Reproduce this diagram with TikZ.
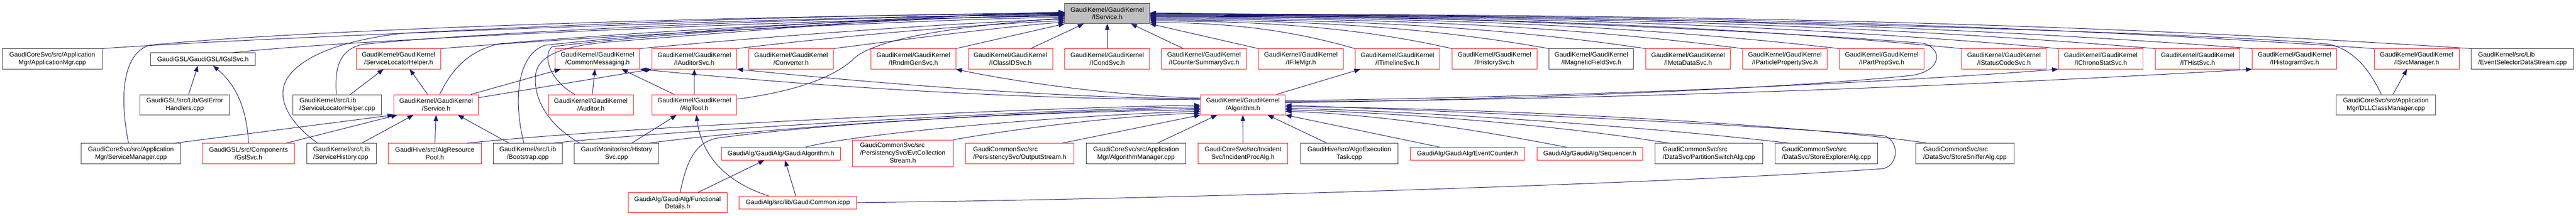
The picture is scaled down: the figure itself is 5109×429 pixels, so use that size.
\documentclass[tikz,border=0pt]{standalone}
\usepackage{fontspec}
\setmainfont{Liberation Sans}
\usetikzlibrary{arrows.meta}
\definecolor{edgec}{RGB}{25,25,112}
\definecolor{boxred}{RGB}{255,30,30}
\definecolor{boxblk}{RGB}{60,60,60}
\definecolor{mainfill}{RGB}{191,191,191}
\newcommand{\nodefnt}{\fontsize{12.8pt}{15pt}\selectfont}
\begin{document}
\begin{tikzpicture}[x=1pt,y=1pt,
  nb/.style={draw=boxblk, line width=1pt, rectangle, inner sep=0pt, font=\nodefnt, align=center, minimum height=40pt, text=black},
  rb/.style={nb, draw=boxred},
  kn/.style={rb, minimum width=168pt},
  lnk/.style={draw=edgec, line width=1pt, -{Triangle[length=12pt,width=9pt]}}]
\fill[white] (0,0) rectangle (5109,-429);
\useasboundingbox (0,0) rectangle (5109,-429);

% main node
\node[nb, minimum width=168pt, fill=mainfill] (isvc) at (2196,-26.7) {GaudiKernel/GaudiKernel\\/IService.h};

% row 2
\node[nb, minimum width=198pt] (appmgr) at (103.5,-117) {GaudiCoreSvc/src/Application\\Mgr/ApplicationMgr.cpp};
\node[nb, minimum width=208pt, minimum height=25pt] (igsl) at (402.5,-117.5) {GaudiGSL/GaudiGSL/IGslSvc.h};
\node[kn] (slhh) at (790.5,-117) {GaudiKernel/GaudiKernel\\/ServiceLocatorHelper.h};
\node[kn] (cmsg) at (1185,-117) {GaudiKernel/GaudiKernel\\/CommonMessaging.h};
\node[kn] (iaud) at (1377,-117) {GaudiKernel/GaudiKernel\\/IAuditorSvc.h};
\node[kn] (conv) at (1569,-117) {GaudiKernel/GaudiKernel\\/Converter.h};
\node[kn] (irndm) at (1811.5,-117) {GaudiKernel/GaudiKernel\\/IRndmGenSvc.h};
\node[kn] (iclid) at (2004,-117) {GaudiKernel/GaudiKernel\\/IClassIDSvc.h};
\node[kn] (icond) at (2196,-117) {GaudiKernel/GaudiKernel\\/ICondSvc.h};
\node[kn] (icnt) at (2388,-117) {GaudiKernel/GaudiKernel\\/ICounterSummarySvc.h};
\node[kn] (ifile) at (2580,-117) {GaudiKernel/GaudiKernel\\/IFileMgr.h};
\node[kn] (itime) at (2771.5,-117) {GaudiKernel/GaudiKernel\\/ITimelineSvc.h};
\node[kn] (ihist) at (2964,-117) {GaudiKernel/GaudiKernel\\/IHistorySvc.h};
\node[kn, draw=boxblk] (imag) at (3156,-117) {GaudiKernel/GaudiKernel\\/IMagneticFieldSvc.h};
\node[kn] (imeta) at (3348,-117) {GaudiKernel/GaudiKernel\\/IMetaDataSvc.h};
\node[kn] (ipart) at (3540,-117) {GaudiKernel/GaudiKernel\\/IParticlePropertySvc.h};
\node[kn] (ipprop) at (3732,-117) {GaudiKernel/GaudiKernel\\/IPartPropSvc.h};
\node[kn] (istat) at (3974.5,-117) {GaudiKernel/GaudiKernel\\/IStatusCodeSvc.h};
\node[kn] (ichrono) at (4166.5,-117) {GaudiKernel/GaudiKernel\\/IChronoStatSvc.h};
\node[kn] (ithist) at (4358.6,-117) {GaudiKernel/GaudiKernel\\/ITHistSvc.h};
\node[kn] (ihisto) at (4550.8,-117) {GaudiKernel/GaudiKernel\\/IHistogramSvc.h};
\node[kn] (isvcmgr) at (4793,-117) {GaudiKernel/GaudiKernel\\/ISvcManager.h};
\node[nb, minimum width=203pt, align=left] (esds) at (5002.8,-117) {GaudiKernel/src/Lib\\/EventSelectorDataStream.cpp};

% row 3
\node[nb, minimum width=177pt] (gslerr) at (366.4,-208) {GaudiGSL/src/Lib/GslError\\Handlers.cpp};
\node[nb, minimum width=176pt, align=left] (slhcpp) at (669,-208) {GaudiKernel/src/Lib\\/ServiceLocatorHelper.cpp};
\node[kn] (service) at (865,-208) {GaudiKernel/GaudiKernel\\/Service.h};
\node[kn] (auditor) at (1171.8,-208) {GaudiKernel/GaudiKernel\\/Auditor.h};
\node[kn] (algtool) at (1377,-208) {GaudiKernel/GaudiKernel\\/AlgTool.h};
\node[kn] (algo) at (2465,-208) {GaudiKernel/GaudiKernel\\/Algorithm.h};
\node[nb, minimum width=197pt] (dllcm) at (4731.9,-208) {GaudiCoreSvc/src/Application\\Mgr/DLLClassManager.cpp};

% row 4
\node[nb, minimum width=197.5pt] (svcmgr) at (259.7,-305) {GaudiCoreSvc/src/Application\\Mgr/ServiceManager.cpp};
\node[rb, minimum width=183pt] (gslsvc) at (492.9,-305) {GaudiGSL/src/Components\\/GslSvc.h};
\node[nb, minimum width=137.6pt, align=left] (svchist) at (677.3,-305) {GaudiKernel/src/Lib\\/ServiceHistory.cpp};
\node[rb, minimum width=184.6pt] (algres) at (862.4,-305) {GaudiHive/src/AlgResource\\Pool.h};
\node[nb, minimum width=136.5pt] (boot) at (1046.7,-305) {GaudiKernel/src/Lib\\/Bootstrap.cpp};
\node[nb, minimum width=167pt] (histsvc) at (1222.7,-305) {GaudiMonitor/src/History\\Svc.cpp};
\node[rb, minimum width=235.6pt, minimum height=25pt] (gaudialg) at (1548.9,-305.5) {GaudiAlg/GaudiAlg/GaudiAlgorithm.h};
\node[rb, minimum width=200pt, minimum height=54pt, align=none] (evtcol) at (1790.5,-305) {\begin{tabular}{@{}l@{}}GaudiCommonSvc/src\\/PersistencySvc/EvtCollection\\\multicolumn{1}{@{}c@{}}{Stream.h}\end{tabular}};
\node[rb, minimum width=215pt, align=left] (outstr) at (2022.4,-305) {GaudiCommonSvc/src\\/PersistencySvc/OutputStream.h};
\node[nb, minimum width=197.5pt] (algmgr) at (2253,-305) {GaudiCoreSvc/src/Application\\Mgr/AlgorithmManager.cpp};
\node[rb, minimum width=178.6pt] (incproc) at (2465.1,-305) {GaudiCoreSvc/src/Incident\\Svc/IncidentProcAlg.h};
\node[nb, minimum width=193.5pt] (algoexec) at (2676,-305) {GaudiHive/src/AlgoExecution\\Task.cpp};
\node[rb, minimum width=226.7pt, minimum height=25pt] (evtcnt) at (2910.5,-305.5) {GaudiAlg/GaudiAlg/EventCounter.h};
\node[rb, minimum width=209.7pt, minimum height=25pt] (seq) at (3153,-305.5) {GaudiAlg/GaudiAlg/Sequencer.h};
\node[nb, minimum width=213.7pt, align=left] (partsw) at (3389.3,-305) {GaudiCommonSvc/src\\/DataSvc/PartitionSwitchAlg.cpp};
\node[nb, minimum width=203.8pt, align=left] (storeexp) at (3622.4,-305) {GaudiCommonSvc/src\\/DataSvc/StoreExplorerAlg.cpp};
\node[nb, minimum width=195.2pt, align=left] (storesniff) at (3897,-305) {GaudiCommonSvc/src\\/DataSvc/StoreSnifferAlg.cpp};

% row 5
\node[rb, minimum width=196pt] (funcdet) at (1343.8,-402.5) {GaudiAlg/GaudiAlg/Functional\\Details.h};
\node[rb, minimum width=233.5pt, minimum height=25pt] (gcommon) at (1582.3,-402.5) {GaudiAlg/src/lib/GaudiCommon.icpp};

% ---- edges into IService (left side)
\draw[lnk] ([xshift=-72.7pt]histsvc.north) .. controls (1090,-250) and (1058,-200) .. (1062,-150) .. controls (1066,-108) and (1120,-92) .. (1200,-84) .. controls (1600,-52) and (1900,-28) .. ([yshift=2.7pt]isvc.west);
\draw[lnk] ([xshift=-7.7pt]boot.north) .. controls (1018,-200) and (1025,-110) .. (1080,-90) .. controls (1400,-55) and (1900,-28) .. ([yshift=1.7pt]isvc.west);
\draw[lnk] ([xshift=-47.3pt]svchist.north) .. controls (575,-245) and (545,-195) .. (570,-155) .. controls (600,-110) and (680,-80) .. (800,-66) .. controls (1300,-40) and (1800,-27) .. ([yshift=0.7pt]isvc.west);
\draw[lnk] ([xshift=-4.7pt]svcmgr.north) .. controls (238,-200) and (240,-110) .. (295,-90) .. controls (600,-58) and (1500,-30) .. ([yshift=-0.3pt]isvc.west);
\draw[lnk] (appmgr.north east) .. controls (500,-75) and (1500,-35) .. ([yshift=-1.3pt]isvc.west);
\draw[lnk] ([xshift=-2pt]slhcpp.north) .. controls (663,-130) and (675,-98) .. (720,-88) .. controls (1000,-60) and (1700,-32) .. ([yshift=-2.3pt]isvc.west);
\draw[lnk] ([xshift=-31.8pt]auditor.north) .. controls (1090,-160) and (1075,-110) .. (1095,-93) .. controls (1300,-65) and (1850,-33) .. ([yshift=-3.3pt]isvc.west);
\draw[lnk] ([xshift=7pt]service.north) .. controls (900,-130) and (935,-100) .. (990,-87) .. controls (1300,-60) and (1800,-34) .. ([yshift=-4.3pt]isvc.west);
\draw[lnk] ([xshift=59.5pt]igsl.north) .. controls (700,-78) and (1600,-38) .. ([yshift=-5.3pt]isvc.west);
\draw[lnk] (slhh.north east) .. controls (1200,-70) and (1800,-40) .. ([yshift=-7.3pt]isvc.west);
\draw[lnk] ([yshift=11pt]algtool.east) .. controls (1590,-180) and (1655,-150) .. (1690,-120) .. controls (1720,-85) and (1850,-55) .. ([yshift=-9.3pt]isvc.west);
\draw[lnk] (cmsg.north east) .. controls (1550,-70) and (1900,-45) .. ([yshift=-11.3pt]isvc.west);
\draw[lnk] (iaud.north east) .. controls (1700,-68) and (1950,-48) .. ([yshift=-14.3pt]isvc.west);
\draw[lnk] (conv.north east) .. controls (1820,-75) and (2000,-52) .. ([yshift=-17.3pt]isvc.west);

% ---- edges into IService (bottom)
\draw[lnk] (irndm.north east) -- (isvc.south west);
\draw[lnk] ([xshift=40pt]iclid.north) -- ([xshift=38pt]isvc.south west);
\draw[lnk] (icond.north) -- (isvc.south);
\draw[lnk] ([xshift=-41pt]icnt.north) -- ([xshift=47pt]isvc.south);
\draw[lnk] (ifile.north west) -- (isvc.south east);

% ---- edges into IService (right side)
\draw[lnk] (itime.north west) .. controls (2565,-61) and (2443,-45) .. ([yshift=-18pt]isvc.east);
\draw[lnk] (ihist.north west) .. controls (2700,-56) and (2520,-42) .. ([yshift=-15pt]isvc.east);
\draw[lnk] (imag.north west) .. controls (2834,-54) and (2597,-40) .. ([yshift=-13pt]isvc.east);
\draw[lnk] (imeta.north west) .. controls (2969,-53) and (2674,-38) .. ([yshift=-11pt]isvc.east);
\draw[lnk] (ipart.north west) .. controls (3103,-51) and (2750,-36) .. ([yshift=-9pt]isvc.east);
\draw[lnk] (ipprop.north west) .. controls (3238,-50) and (2827,-34) .. ([yshift=-7pt]isvc.east);
\draw[lnk] (istat.north west) .. controls (3407,-49) and (2924,-33) .. ([yshift=-6pt]isvc.east);
\draw[lnk] (ichrono.north west) .. controls (3542,-48) and (3001,-32) .. ([yshift=-5pt]isvc.east);
\draw[lnk] (ithist.north west) .. controls (3676,-47) and (3078,-31) .. ([yshift=-4pt]isvc.east);
\draw[lnk] (ihisto.north west) .. controls (3811,-47) and (3155,-30) .. ([yshift=-3pt]isvc.east);
\draw[lnk] (isvcmgr.north west) .. controls (3980,-46) and (3252,-29) .. ([yshift=-2pt]isvc.east);
\draw[lnk] (esds.north west) .. controls (4115,-45) and (3328,-28) .. ([yshift=-1pt]isvc.east);
\draw[lnk] ([xshift=-8.9pt]dllcm.north) .. controls (4700,-140) and (4670,-100) .. (4620,-88) .. controls (4400,-65) and (3200,-30) .. (isvc.east);
\draw[lnk] ([yshift=4pt]algo.east) .. controls (2900,-200) and (3500,-180) .. (3790,-150) .. controls (3850,-142) and (3855,-98) .. (3815,-86) .. controls (3500,-60) and (2800,-30) .. ([yshift=1pt]isvc.east);

% ---- edges out of Algorithm.h
\draw[lnk] ([xshift=67pt]algo.north) -- ([xshift=-73.5pt]itime.south);
\draw[lnk] ([yshift=13pt]algo.west) .. controls (2200,-190) and (2000,-160) .. (irndm.south east);
\draw[lnk] ([yshift=10pt]algo.west) .. controls (2100,-198) and (1700,-180) .. (cmsg.south east);
\draw[lnk] ([yshift=12pt]algo.west) .. controls (2150,-196) and (1800,-172) .. (iaud.south east);
\draw[lnk] ([yshift=8pt]algo.east) .. controls (3200,-192) and (3800,-160) .. (ichrono.south west);
\draw[lnk] ([yshift=6pt]algo.east) .. controls (3300,-198) and (4100,-160) .. (ihisto.south west);

% ---- edges into Algorithm.h
\draw[lnk] ([xshift=63.6pt]algres.north) .. controls (1200,-255) and (2000,-215) .. ([yshift=-1pt]algo.west);
\draw[lnk] ([xshift=49.3pt]boot.north) .. controls (1300,-262) and (2000,-220) .. ([yshift=-4pt]algo.west);
\draw[lnk] ([xshift=63.8pt]histsvc.north) .. controls (1500,-255) and (2000,-222) .. ([yshift=-7pt]algo.west);
\draw[lnk] ([xshift=5.2pt]funcdet.north) .. controls (1362,-320) and (1378,-282) .. (1425,-274) .. controls (1700,-238) and (2100,-222) .. ([yshift=-10pt]algo.west);
\draw[lnk] ([xshift=48.1pt]gaudialg.north) .. controls (1700,-265) and (2100,-230) .. ([yshift=-13pt]algo.west);
\draw[lnk] (evtcol.north east) .. controls (2050,-250) and (2250,-228) .. ([yshift=-17pt]algo.west);
\draw[lnk] ([xshift=83.6pt]outstr.north) -- (algo.south west);
\draw[lnk] ([xshift=42pt]algmgr.north) -- ([xshift=-51pt]algo.south);
\draw[lnk] (incproc.north) -- (algo.south);
\draw[lnk] ([xshift=-44pt]algoexec.north) -- ([xshift=49pt]algo.south);
\draw[lnk] ([xshift=-54.5pt]evtcnt.north) -- (algo.south east);
\draw[lnk] ([xshift=-46pt]seq.north) .. controls (2950,-262) and (2750,-228) .. ([yshift=-13pt]algo.east);
\draw[lnk] ([xshift=-79.3pt]partsw.north) .. controls (3100,-250) and (2800,-225) .. ([yshift=-10pt]algo.east);
\draw[lnk] ([xshift=-73.4pt]storeexp.north) .. controls (3300,-255) and (2850,-222) .. ([yshift=-7pt]algo.east);
\draw[lnk] ([xshift=-75pt]storesniff.north) .. controls (3600,-250) and (3000,-215) .. ([yshift=-4pt]algo.east);
\draw[lnk] (gcommon.east) .. controls (2400,-395) and (3400,-360) .. (3735,-335) .. controls (3765,-328) and (3768,-282) .. (3738,-270) .. controls (3400,-242) and (2800,-218) .. ([yshift=-1pt]algo.east);

% ---- other edges
\draw[lnk] ([xshift=7.6pt]gslerr.north) -- ([xshift=-10pt]igsl.south);
\draw[lnk] (gslsvc.north) .. controls (490,-220) and (470,-170) .. ([xshift=20pt]igsl.south);
\draw[lnk] ([xshift=26pt]slhcpp.north) -- ([xshift=-30pt]slhh.south);
\draw[lnk] ([xshift=-17pt]service.north) -- ([xshift=22pt]slhh.south);
\draw[lnk] ([xshift=69pt]service.north) -- ([xshift=-73pt]cmsg.south);
\draw[lnk] ([yshift=14pt]service.east) -- (iaud.south west);
\draw[lnk] ([xshift=86.3pt]svcmgr.north) -- (service.south west);
\draw[lnk] ([xshift=74.1pt]gslsvc.north) -- ([xshift=-77pt]service.south);
\draw[lnk] ([xshift=40pt]svchist.north) -- ([xshift=-45pt]service.south);
\draw[lnk] (algres.north) -- (service.south);
\draw[lnk] ([xshift=-37pt]boot.north) -- ([xshift=43pt]service.south);
\draw[lnk] ([xshift=3pt]auditor.north) -- ([xshift=-5pt]cmsg.south);
\draw[lnk] ([xshift=-40pt]algtool.north) -- ([xshift=48pt]cmsg.south);
\draw[lnk] (algtool.north) -- (iaud.south);
\draw[lnk] ([xshift=30pt]histsvc.north) -- ([xshift=-35pt]algtool.south);
\draw[lnk] ([xshift=-57.3pt]gcommon.north) .. controls (1440,-362) and (1392,-310) .. ([xshift=4pt]algtool.south);
\draw[lnk] ([xshift=41pt]funcdet.north) -- ([xshift=-33pt]gaudialg.south);
\draw[lnk] ([xshift=-4pt]gcommon.north) -- ([xshift=8pt]gaudialg.south);
\draw[lnk] ([xshift=14pt]dllcm.north) -- ([xshift=-19pt]isvcmgr.south);
\end{tikzpicture}
\end{document}
